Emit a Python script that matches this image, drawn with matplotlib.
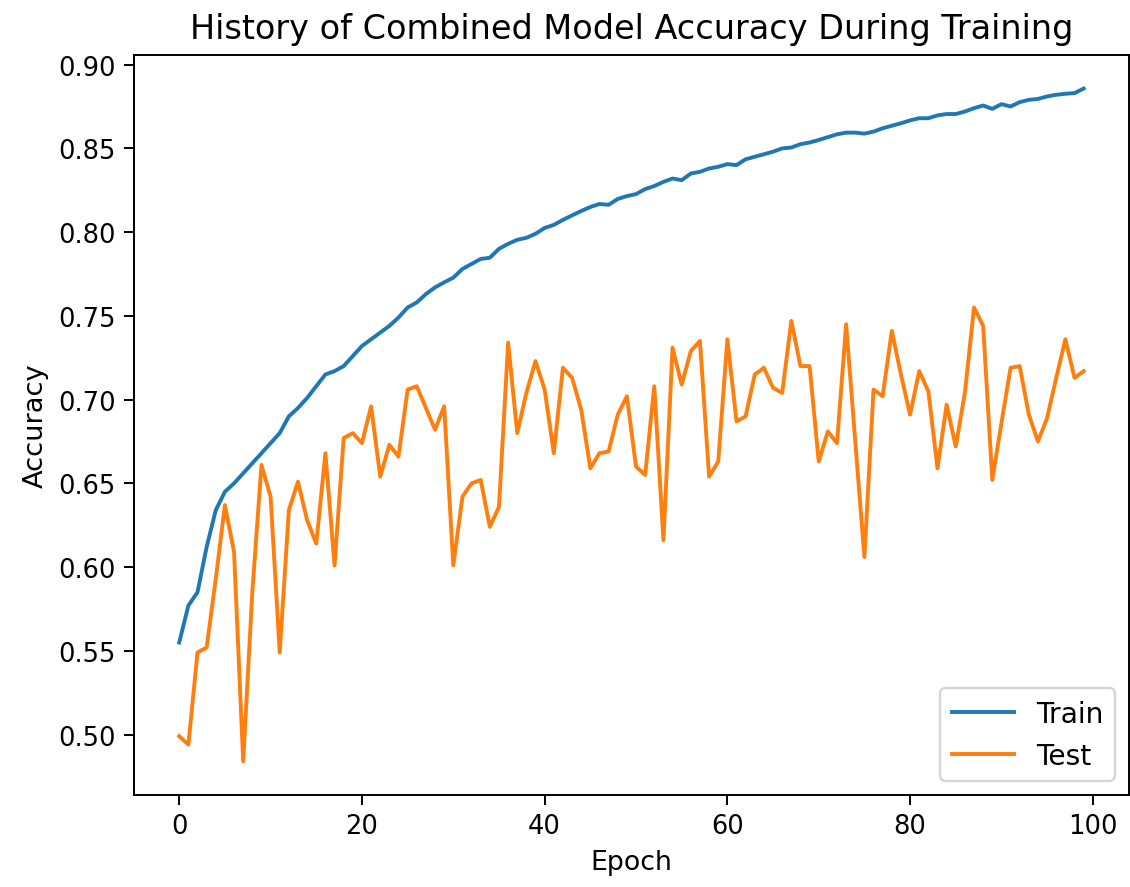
# Import libraries/modules
import numpy as np
import matplotlib
matplotlib.use('Agg')
import matplotlib.pyplot as plt

# Accuracy history (one value per epoch)
train_acc = [0.555, 0.577, 0.585, 0.612, 0.634, 0.645, 0.650, 0.656, 0.662, 0.668,
             0.674, 0.680, 0.690, 0.695, 0.701, 0.708, 0.715, 0.717, 0.720, 0.726,
             0.732, 0.736, 0.740, 0.744, 0.749, 0.755, 0.758, 0.763, 0.767, 0.770,
             0.7728, 0.778, 0.781, 0.784, 0.7847, 0.790, 0.793, 0.7954, 0.7966, 0.799,
             0.8025, 0.8043, 0.8073, 0.810, 0.8126, 0.815, 0.8168, 0.8163, 0.8198, 0.8215,
             0.8227, 0.8257, 0.8275, 0.830, 0.832, 0.831, 0.835, 0.836, 0.838, 0.839,
             0.8406, 0.840, 0.8435, 0.845, 0.8465, 0.848, 0.850, 0.8505, 0.8525, 0.8535,
             0.855, 0.8567, 0.8584, 0.8594, 0.8594, 0.8588, 0.860, 0.862, 0.8635, 0.865,
             0.8667, 0.868, 0.868, 0.8697, 0.8705, 0.8705, 0.872, 0.874, 0.8756, 0.8736,
             0.8764, 0.875, 0.8776, 0.879, 0.8795, 0.881, 0.882, 0.8826, 0.883, 0.8857]

test_acc = [0.499, 0.494, 0.549, 0.552, 0.593, 0.637, 0.609, 0.484, 0.585, 0.661,
            0.642, 0.549, 0.634, 0.651, 0.628, 0.614, 0.668, 0.601, 0.677, 0.680,
            0.674, 0.696, 0.654, 0.673, 0.666, 0.706, 0.708, 0.695, 0.682, 0.696,
            0.601, 0.642, 0.650, 0.652, 0.624, 0.636, 0.734, 0.680, 0.704, 0.723,
            0.706, 0.668, 0.719, 0.713, 0.694, 0.659, 0.668, 0.669, 0.691, 0.702,
            0.660, 0.655, 0.708, 0.616, 0.731, 0.709, 0.729, 0.735, 0.654, 0.663,
            0.736, 0.687, 0.690, 0.715, 0.719, 0.707, 0.704, 0.747, 0.720, 0.720,
            0.663, 0.681, 0.674, 0.745, 0.675, 0.606, 0.706, 0.702, 0.741, 0.715,
            0.691, 0.717, 0.705, 0.659, 0.697, 0.672, 0.704, 0.755, 0.744, 0.652,
            0.686, 0.719, 0.720, 0.691, 0.675, 0.689, 0.713, 0.736, 0.713, 0.717]

epochs = np.arange(len(train_acc))

# Plot
fig = plt.figure(figsize=(1130 / 175, 888 / 175), dpi=175)
ax = fig.add_axes([0.1186, 0.1036, 0.8804, 0.8334])
ax.plot(epochs, train_acc, label='Train', linewidth=1.6)
ax.plot(epochs, test_acc, label='Test', linewidth=1.6)
ax.set_title('History of Combined Model Accuracy During Training', fontsize=13.8, pad=7)
ax.set_xlabel('Epoch', fontsize=11)
ax.set_ylabel('Accuracy', fontsize=11.2)
ax.tick_params(labelsize=10.6, length=4)
ax.legend(loc='lower right', fontsize=11.6, handlelength=2.2)
fig.savefig('out.png', dpi=175)
